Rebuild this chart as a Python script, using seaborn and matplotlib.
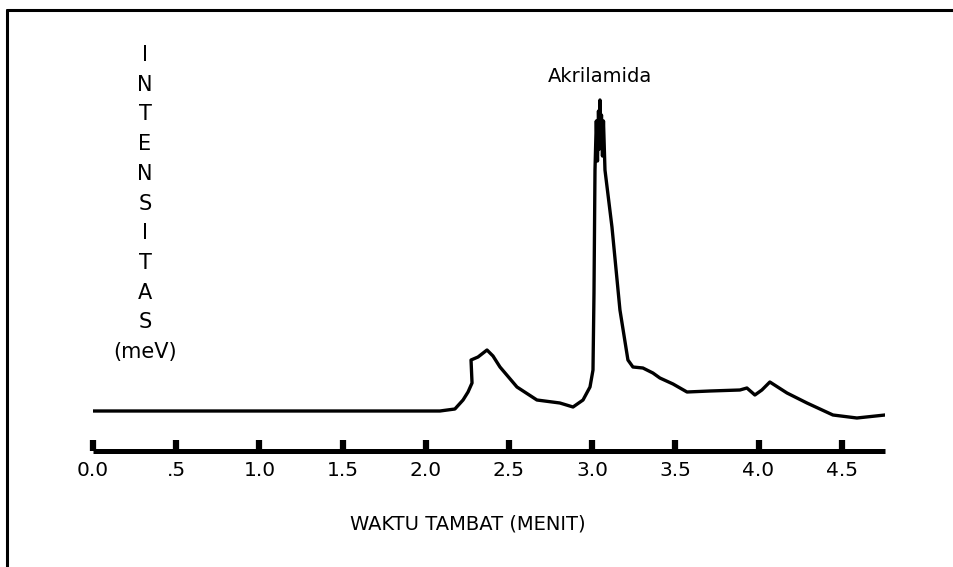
import matplotlib
matplotlib.use("Agg")
import matplotlib.pyplot as plt
from matplotlib.lines import Line2D
import numpy as np
import pandas as pd
import seaborn as sns

# chromatogram trace (time in minutes, intensity in arbitrary units)
waktu = [0.0, 2.085, 2.175, 2.224, 2.254, 2.278, 2.272, 2.314, 2.368, 2.404,
         2.446, 2.548, 2.668, 2.806, 2.885, 2.945, 2.987, 3.005, 3.011, 3.017,
         3.025, 3.032, 3.038, 3.044, 3.047, 3.050, 3.056, 3.062, 3.068, 3.077,
         3.119, 3.167, 3.215, 3.245, 3.305, 3.365, 3.407, 3.486, 3.570, 3.708,
         3.888, 3.930, 3.978, 4.020, 4.068, 4.171, 4.291, 4.447, 4.591, 4.760]
intensitas = [0, 0, 2, 11, 19, 28, 51, 54, 61, 55,
              44, 24, 11, 8, 4, 11, 24, 41, 118, 241,
              290, 250, 300, 262, 311, 270, 296, 255, 290, 241,
              184, 101, 51, 44, 43, 38, 33, 27, 19, 20,
              21, 23, 16, 21, 29, 18, 8, -4, -7, -4]

tick_pos = [0.0, 0.5, 1.0, 1.5, 2.0, 2.5, 3.0, 3.5, 4.0, 4.5]
tick_labels = ["0.0", ".5", "1.0", "1.5", "2.0", "2.5", "3.0", "3.5", "4.0", "4.5"]
ylabel_letters = list("INTENSITAS") + ["(meV)"]
peak_label = "Akrilamida"
xlabel = "WAKTU TAMBAT (MENIT)"


def main():
    sns.set_style("white")
    plt.rcParams['font.family'] = ['DejaVu Sans']

    df = pd.DataFrame({"waktu": waktu, "intensitas": intensitas})

    fig = plt.figure(figsize=(9.54, 5.67), dpi=100)
    W, H = 954, 567
    ax = fig.add_axes([93 / W, 116 / H, 792 / W, 391 / H])

    sns.lineplot(data=df, x="waktu", y="intensitas", ax=ax, color="black",
                 linewidth=2.4, sort=False, estimator=None)

    ax.set_xlim(0, 4.76)
    ax.set_ylim(-40, 351)

    for side in ["top", "right", "left"]:
        ax.spines[side].set_visible(False)
    ax.spines["bottom"].set_linewidth(3.6)
    ax.spines["bottom"].set_color("black")
    ax.spines["bottom"].set_capstyle("butt")

    ax.set_yticks([])
    ax.set_ylabel("")
    ax.set_xticks(tick_pos)
    ax.set_xticklabels(tick_labels)
    ax.tick_params(axis="x", direction="in", length=8, width=4.5, color="black",
                   pad=7, labelsize=14.5, labelcolor="black", bottom=True)

    ax.set_xlabel(xlabel, fontsize=14, color="black")
    ax.xaxis.set_label_coords((468 - 93) / 792, -0.162)

    ax.text(3.047, 325, peak_label, ha="center", va="bottom", fontsize=14, color="black")

    # stacked vertical y label
    for i, ch in enumerate(ylabel_letters):
        y_px = 55 + i * 29.7
        fig.text(145 / W, 1 - y_px / H, ch, ha="center", va="center",
                 fontsize=15, color="black")

    # frame lines from the scanned figure
    fig.add_artist(Line2D([7 / W, 1.0], [1 - 10 / H, 1 - 10 / H], color="black",
                          linewidth=2.2, transform=fig.transFigure))
    fig.add_artist(Line2D([7 / W, 7 / W], [0.0, 1 - 10 / H], color="black",
                          linewidth=2.2, transform=fig.transFigure))

    fig.savefig("out.png", dpi=100)


if __name__ == "__main__":
    main()
